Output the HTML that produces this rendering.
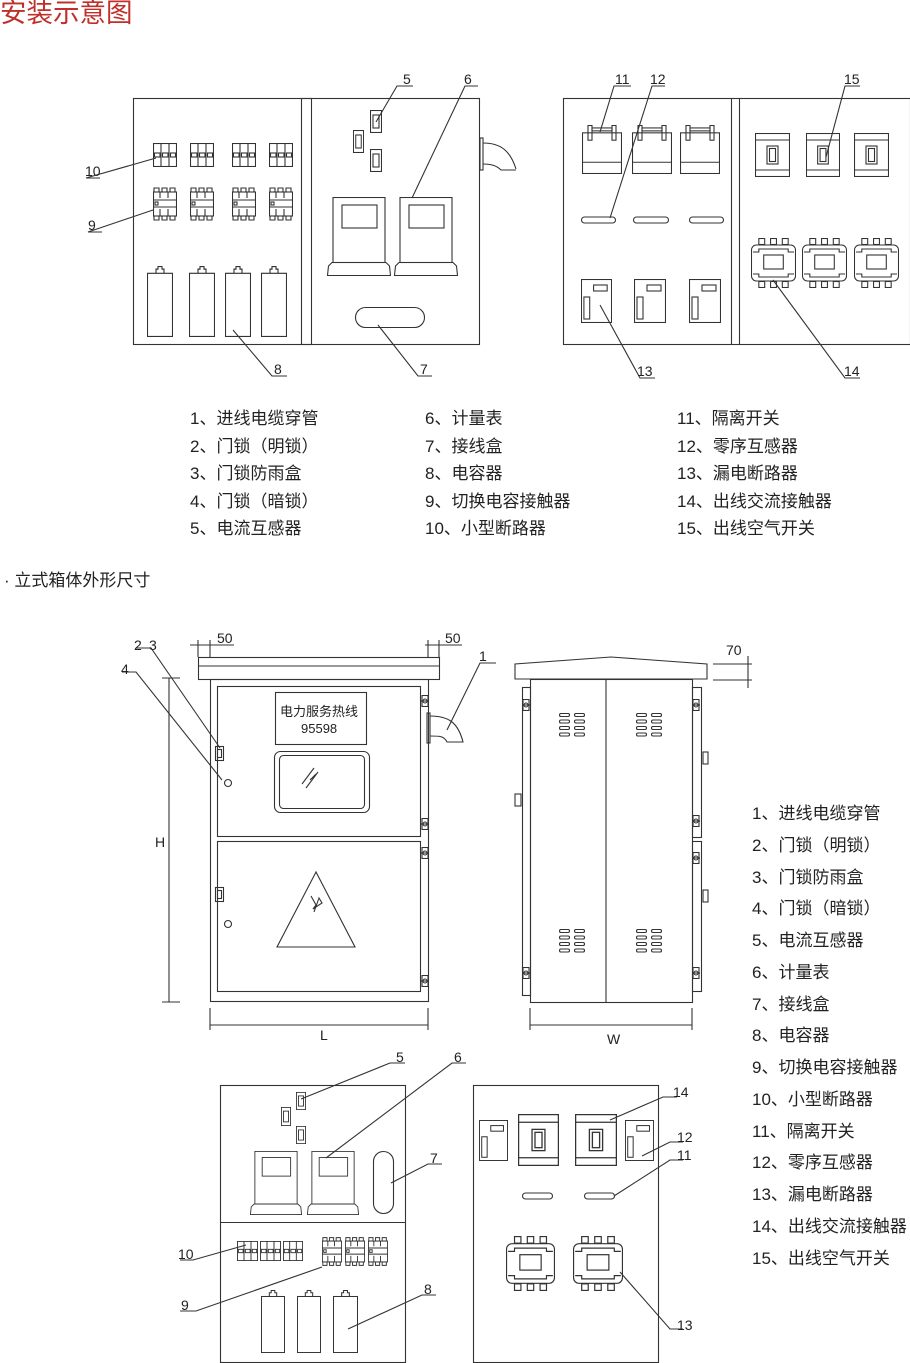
<!DOCTYPE html>
<html><head><meta charset="utf-8"><style>
html,body{margin:0;padding:0;background:#fff;}
body{width:910px;height:1363px;overflow:hidden;position:relative;font-family:"Liberation Sans","Noto Sans CJK SC",sans-serif;}
svg{position:absolute;left:0;top:0;}
.s{fill:none;stroke:#333;stroke-width:1.1;vector-effect:non-scaling-stroke;}
text{font-family:"Liberation Sans","Noto Sans CJK SC",sans-serif;fill:#222;}
.t{font-size:17px;}
.n{font-size:14px;}
</style></head><body>
<svg width="910" height="1363" viewBox="0 0 910 1363">
<defs>
<symbol id="mcb" viewBox="0 0 24 24" preserveAspectRatio="none"><g class="s"><rect x="0.5" y="0.5" width="23" height="23"/><line x1="8" y1="0" x2="8" y2="24"/><line x1="16" y1="0" x2="16" y2="24"/><rect x="1.5" y="10" width="5.5" height="4"/><rect x="9.5" y="10" width="5.5" height="4"/><rect x="17.5" y="10" width="5" height="4"/></g></symbol>
<symbol id="kc" viewBox="0 0 24 38" preserveAspectRatio="none"><g class="s"><path d="M1 3h5v4h-5zM9 3h5v4h-5zM17 3h5v4h-5zM1 31h5v4h-5zM9 31h5v4h-5zM17 31h5v4h-5z"/><rect x="0.5" y="7" width="23" height="24"/><line x1="0" y1="15" x2="24" y2="15"/><line x1="0" y1="22" x2="24" y2="22"/><rect x="2" y="17" width="3" height="3"/><line x1="7" y1="7" x2="7" y2="13"/><line x1="15" y1="7" x2="15" y2="13"/><line x1="7" y1="24" x2="7" y2="31"/><line x1="15" y1="24" x2="15" y2="31"/></g></symbol>
<symbol id="cap" viewBox="0 0 26 68" preserveAspectRatio="none"><g class="s"><path d="M9 7V3h2V0.5h4V3h2v4"/><rect x="0.5" y="7" width="25" height="60.5"/></g></symbol>
<symbol id="meter" viewBox="0 0 64 79" preserveAspectRatio="none"><g class="s"><rect x="6" y="0.5" width="52" height="65"/><rect x="15" y="8" width="35" height="23"/><path d="M0.5 78.5L1.5 69L5 65.5H59L62.5 69L63.5 78.5Z"/></g></symbol>
<symbol id="ct" viewBox="0 0 12 23" preserveAspectRatio="none"><g class="s"><rect x="0.5" y="0.5" width="11" height="22"/><rect x="3" y="5" width="6" height="13"/></g></symbol>
<symbol id="iso" viewBox="0 0 40 50" preserveAspectRatio="none"><g class="s"><rect x="6" y="0.5" width="4" height="15"/><rect x="30" y="0.5" width="4" height="15"/><rect x="10" y="3" width="20" height="3"/><rect x="0.5" y="8" width="39" height="41.5"/><line x1="0" y1="38" x2="40" y2="38"/></g></symbol>
<symbol id="rcd" viewBox="0 0 32 44" preserveAspectRatio="none"><g class="s"><rect x="0.5" y="0.5" width="31" height="43"/><rect x="13" y="6" width="14" height="6"/><rect x="3" y="18" width="6" height="22"/></g></symbol>
<symbol id="air" viewBox="0 0 35 44" preserveAspectRatio="none"><g class="s"><rect x="0.5" y="0.5" width="34" height="43"/><line x1="0" y1="7" x2="35" y2="7"/><line x1="0" y1="37" x2="35" y2="37"/><rect x="12" y="13" width="11" height="18"/><rect x="14.5" y="15.5" width="6" height="13"/></g></symbol>
<symbol id="kx" viewBox="0 0 46 50" preserveAspectRatio="none"><g class="s"><rect x="8" y="0.5" width="6" height="6"/><rect x="20" y="0.5" width="6" height="6"/><rect x="32" y="0.5" width="6" height="6"/><rect x="8" y="43.5" width="6" height="6"/><rect x="20" y="43.5" width="6" height="6"/><rect x="32" y="43.5" width="6" height="6"/><rect x="0.5" y="7" width="45" height="36" rx="5"/><path d="M2 14H8V11H38V14H44M2 36H8V39H38V36H44"/><rect x="13" y="17" width="20" height="14"/></g></symbol>
<symbol id="vent" viewBox="0 0 26 24" preserveAspectRatio="none"><g class="s"><rect x="0.5" y="0.5" width="10" height="3" rx="1.5"/><rect x="0.5" y="7" width="10" height="3" rx="1.5"/><rect x="0.5" y="13.5" width="10" height="3" rx="1.5"/><rect x="0.5" y="20" width="10" height="3" rx="1.5"/><rect x="15.5" y="0.5" width="10" height="3" rx="1.5"/><rect x="15.5" y="7" width="10" height="3" rx="1.5"/><rect x="15.5" y="13.5" width="10" height="3" rx="1.5"/><rect x="15.5" y="20" width="10" height="3" rx="1.5"/></g></symbol>
<symbol id="hinge" viewBox="0 0 8 12" preserveAspectRatio="none"><g class="s"><rect x="1" y="0.5" width="6" height="11"/><line x1="0" y1="6" x2="8" y2="6"/><circle cx="4" cy="6" r="2"/></g></symbol>
</defs>

<text x="0" y="22" style="font-size:26.5px;fill:#c0302a">安装示意图</text>

<!-- TOP LEFT PANEL -->
<g class="s">
<rect x="133.5" y="98.5" width="346" height="246"/>
<rect x="301.5" y="98.5" width="10" height="246"/>
<rect x="480" y="138" width="3" height="32"/>
<path d="M483 143C500 143 510 150 516 169M483 164C492 164 497 166 501 170H516"/>
<rect x="355.5" y="307.5" width="69" height="20" rx="10"/>
</g>
<use href="#mcb" x="153" y="143" width="24" height="24"/><use href="#mcb" x="190" y="143" width="24" height="24"/><use href="#mcb" x="232" y="143" width="24" height="24"/><use href="#mcb" x="269" y="143" width="24" height="24"/>
<use href="#kc" x="153" y="185" width="24" height="38"/><use href="#kc" x="190" y="185" width="24" height="38"/><use href="#kc" x="232" y="185" width="24" height="38"/><use href="#kc" x="269" y="185" width="24" height="38"/>
<use href="#cap" x="147" y="266" width="26" height="71"/><use href="#cap" x="189" y="266" width="26" height="71"/><use href="#cap" x="225" y="266" width="26" height="71"/><use href="#cap" x="261" y="266" width="26" height="71"/>
<use href="#ct" x="370" y="110" width="12" height="23"/><use href="#ct" x="353" y="130" width="11" height="23"/><use href="#ct" x="370" y="149" width="12" height="23"/>
<use href="#meter" x="327" y="197" width="64" height="79"/><use href="#meter" x="394" y="197" width="64" height="79"/>
<g class="s">
<path d="M376 122L397 86H413"/><path d="M412 198L465 86H478"/><path d="M378 325L418 376H432"/><path d="M233 330L272 376H287"/><path d="M153 210L88 232H102"/><path d="M156 158L86 178H100"/>
</g>
<text class="n" x="403" y="84">5</text><text class="n" x="464" y="84">6</text><text class="n" x="420" y="374">7</text><text class="n" x="274" y="374">8</text><text class="n" x="88" y="230">9</text><text class="n" x="85" y="176">10</text>

<!-- TOP RIGHT PANEL -->
<g class="s">
<rect x="563.5" y="98.5" width="347" height="246"/>
<line x1="731.5" y1="98" x2="731.5" y2="345"/><line x1="739.5" y1="98" x2="739.5" y2="345"/>
<rect x="581.5" y="217" width="34" height="6" rx="3"/><rect x="633.5" y="217" width="35" height="6" rx="3"/><rect x="689.5" y="217" width="34" height="6" rx="3"/>
</g>
<use href="#iso" x="582" y="125" width="40" height="49"/><use href="#iso" x="632" y="125" width="40" height="49"/><use href="#iso" x="680" y="125" width="40" height="49"/>
<use href="#rcd" x="581" y="279" width="31" height="44"/><use href="#rcd" x="634" y="279" width="32" height="44"/><use href="#rcd" x="689" y="279" width="32" height="44"/>
<use href="#air" x="755" y="133" width="35" height="44"/><use href="#air" x="806" y="133" width="34" height="44"/><use href="#air" x="854" y="133" width="35" height="44"/>
<use href="#kx" x="751" y="238" width="45" height="50"/><use href="#kx" x="802" y="238" width="45" height="50"/><use href="#kx" x="854" y="238" width="45" height="50"/>
<g class="s">
<path d="M600 132L614 86H631"/><path d="M610 218L652 86H665"/><path d="M826 157L845 86H860"/><path d="M600 305L640 378H655"/><path d="M773 280L845 378H860"/>
</g>
<text class="n" x="615" y="84">11</text><text class="n" x="650" y="84">12</text><text class="n" x="844" y="84">15</text><text class="n" x="637" y="376">13</text><text class="n" x="844" y="376">14</text>

<!-- LEGEND TOP -->
<g class="t">
<text x="190" y="424">1、进线电缆穿管</text><text x="190" y="452">2、门锁（明锁）</text><text x="190" y="479">3、门锁防雨盒</text><text x="190" y="507">4、门锁（暗锁）</text><text x="190" y="534">5、电流互感器</text>
<text x="425" y="424">6、计量表</text><text x="425" y="452">7、接线盒</text><text x="425" y="479">8、电容器</text><text x="425" y="507">9、切换电容接触器</text><text x="425" y="534">10、小型断路器</text>
<text x="677" y="424">11、隔离开关</text><text x="677" y="452">12、零序互感器</text><text x="677" y="479">13、漏电断路器</text><text x="677" y="507">14、出线交流接触器</text><text x="677" y="534">15、出线空气开关</text>
</g>
<text class="t" x="4" y="586">· 立式箱体外形尺寸</text>

<!-- FRONT VIEW -->
<g class="s">
<rect x="198.5" y="657.5" width="241" height="22"/><line x1="198" y1="666" x2="440" y2="666"/>
<rect x="210.5" y="679.5" width="218" height="322"/>
<rect x="217.5" y="686.5" width="203" height="150"/>
<rect x="217.5" y="841.5" width="203" height="150"/>
<rect x="275.5" y="692.5" width="91" height="52"/>
<rect x="274.5" y="751.5" width="95" height="61" rx="6"/><rect x="279.5" y="755.5" width="85" height="53" rx="4"/>
<path d="M302 784L314 768M306 788L318 772M310 780L316 774"/>
<path d="M316 872L277 947H355Z"/><path d="M311 896L316 905L313 909L322 903L319 898L314 912"/>
<rect x="215.5" y="746.5" width="8" height="14"/><rect x="217.5" y="749.5" width="4" height="8"/>
<rect x="215.5" y="887.5" width="8" height="14"/><rect x="217.5" y="890.5" width="4" height="8"/>
<circle cx="228" cy="783" r="3.5"/><circle cx="228" cy="924" r="3.5"/>
<rect x="427" y="713" width="3" height="30"/>
<path d="M430 716C448 716 458 722 463 742H447C444 736 440 736 430 736"/>
<path d="M169 678V1002M162 678H180M162 1002H180"/>
<path d="M210 1008V1030M428 1008V1030M210 1025H428"/>
<path d="M198 640V657M210 640V657M190 645H234"/>
<path d="M428 640V657M439 640V657M425 645H462"/>
<path d="M222 780L136 672H122"/><path d="M220 748L151 648H136"/><path d="M447 730L480 663H496"/>
</g>
<use href="#hinge" x="421" y="695" width="8" height="12"/><use href="#hinge" x="421" y="818" width="8" height="12"/><use href="#hinge" x="421" y="847" width="8" height="12"/><use href="#hinge" x="421" y="975" width="8" height="12"/>
<text x="280" y="716" style="font-size:13px">电力服务热线</text><text x="301" y="733" style="font-size:13px">95598</text>
<text class="n" x="217" y="643">50</text><text class="n" x="445" y="643">50</text>
<text class="n" x="134" y="650">2</text><text class="n" x="149" y="650">3</text><text class="n" x="121" y="674">4</text><text class="n" x="479" y="661">1</text>
<text class="n" x="155" y="847">H</text><text class="n" x="320" y="1040">L</text>

<!-- SIDE VIEW -->
<g class="s">
<path d="M515 679V664L611 657L707 664V679Z"/>
<rect x="530.5" y="679.5" width="162" height="323"/><line x1="606" y1="679" x2="606" y2="1002"/>
<rect x="522.5" y="687.5" width="8" height="308"/>
<rect x="692.5" y="687.5" width="9" height="150"/><rect x="692.5" y="841.5" width="9" height="150"/>
<rect x="515" y="794" width="6" height="12"/><rect x="703" y="752" width="5" height="12"/><rect x="703" y="890" width="5" height="12"/>
<path d="M530 1008V1030M692 1008V1030M530 1025H692"/>
<path d="M713 664H752M713 680H752M748 656V688"/>
</g>
<use href="#hinge" x="522" y="699" width="8" height="12"/><use href="#hinge" x="522" y="967" width="8" height="12"/>
<use href="#hinge" x="692" y="699" width="8" height="12"/><use href="#hinge" x="692" y="815" width="8" height="12"/><use href="#hinge" x="692" y="852" width="8" height="12"/><use href="#hinge" x="692" y="967" width="8" height="12"/>
<use href="#vent" x="559" y="713" width="26" height="24"/><use href="#vent" x="636" y="713" width="26" height="24"/><use href="#vent" x="559" y="929" width="26" height="24"/><use href="#vent" x="636" y="929" width="26" height="24"/>
<text class="n" x="726" y="655">70</text><text class="n" x="607" y="1044">W</text>

<!-- LEGEND RIGHT -->
<g class="t">
<text x="752" y="819">1、进线电缆穿管</text><text x="752" y="851">2、门锁（明锁）</text><text x="752" y="883">3、门锁防雨盒</text><text x="752" y="914">4、门锁（暗锁）</text><text x="752" y="946">5、电流互感器</text><text x="752" y="978">6、计量表</text><text x="752" y="1010">7、接线盒</text><text x="752" y="1041">8、电容器</text><text x="752" y="1073">9、切换电容接触器</text><text x="752" y="1105">10、小型断路器</text><text x="752" y="1137">11、隔离开关</text><text x="752" y="1168">12、零序互感器</text><text x="752" y="1200">13、漏电断路器</text><text x="752" y="1232">14、出线交流接触器</text><text x="752" y="1264">15、出线空气开关</text>
</g>

<!-- BOTTOM LEFT PANEL -->
<g class="s">
<rect x="220.5" y="1085.5" width="185" height="277"/><line x1="220" y1="1222.5" x2="406" y2="1222.5"/>
<rect x="373.5" y="1151.5" width="20" height="62" rx="10"/>
<path d="M301 1099L390 1063H405"/><path d="M326 1158L452 1063H466"/><path d="M391 1183L428 1164H442"/><path d="M246 1245L193 1260H180"/><path d="M322 1267L196 1311H180"/><path d="M348 1329L422 1295H436"/>
</g>
<use href="#ct" x="296" y="1092" width="10" height="18"/><use href="#ct" x="281" y="1107" width="10" height="19"/><use href="#ct" x="296" y="1126" width="10" height="18"/>
<use href="#meter" x="250" y="1151" width="52" height="64"/><use href="#meter" x="307" y="1151" width="52" height="64"/>
<use href="#mcb" x="237" y="1241" width="21" height="20"/><use href="#mcb" x="260" y="1241" width="21" height="20"/><use href="#mcb" x="283" y="1241" width="20" height="20"/>
<use href="#kc" x="322" y="1235" width="20" height="33"/><use href="#kc" x="345" y="1235" width="20" height="33"/><use href="#kc" x="368" y="1235" width="20" height="33"/>
<use href="#cap" x="261" y="1290" width="24" height="63"/><use href="#cap" x="297" y="1290" width="24" height="63"/><use href="#cap" x="333" y="1290" width="25" height="63"/>
<text class="n" x="396" y="1062">5</text><text class="n" x="454" y="1062">6</text><text class="n" x="430" y="1163">7</text><text class="n" x="178" y="1259">10</text><text class="n" x="181" y="1310">9</text><text class="n" x="424" y="1294">8</text>

<!-- BOTTOM RIGHT PANEL -->
<g class="s">
<rect x="473.5" y="1085.5" width="185" height="277"/>
<rect x="522.5" y="1193" width="30" height="6" rx="3"/><rect x="584.5" y="1193" width="30" height="6" rx="3"/>
<path d="M610 1120L663 1097H677"/><path d="M642 1156L670 1142H683"/><path d="M614 1196L670 1160H683"/><path d="M620 1272L670 1329H683"/>
</g>
<use href="#rcd" x="479" y="1120" width="29" height="41"/><use href="#rcd" x="625" y="1120" width="29" height="41"/>
<use href="#air" x="518" y="1114" width="41" height="52"/><use href="#air" x="575" y="1114" width="42" height="52"/>
<use href="#kx" x="506" y="1236" width="49" height="55"/><use href="#kx" x="573" y="1236" width="50" height="55"/>
<text class="n" x="673" y="1097">14</text><text class="n" x="677" y="1142">12</text><text class="n" x="677" y="1160">11</text><text class="n" x="677" y="1330">13</text>
</svg>
</body></html>
